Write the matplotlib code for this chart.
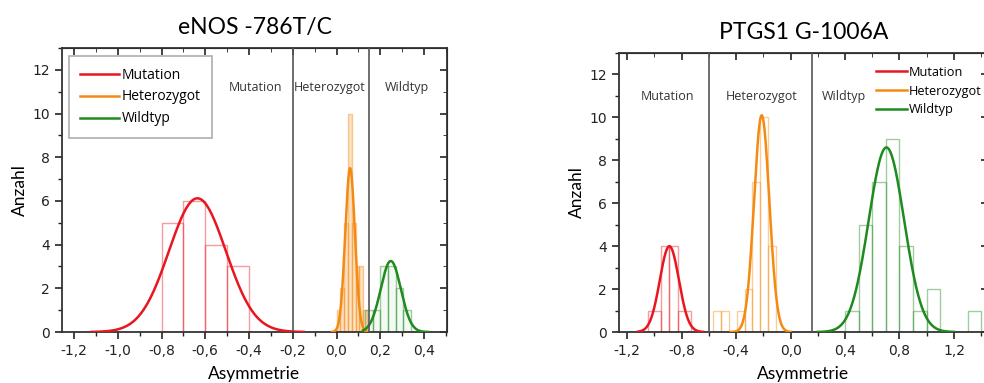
import numpy as np
import matplotlib
matplotlib.use("Agg")
import matplotlib.pyplot as plt
from matplotlib.lines import Line2D
from matplotlib.ticker import MultipleLocator, FuncFormatter

# ---- data ----
# eNOS -786T/C histograms (bin edges, counts)
enos_mut_edges = [-0.8, -0.7, -0.6, -0.5, -0.4]
enos_mut_counts = [5, 6, 4, 3]
enos_het_edges = [0.0, 0.0175, 0.035, 0.0525, 0.07, 0.0875, 0.105, 0.1225, 0.14]
enos_het_counts = [1, 2, 5, 10, 5, 3, 3, 1]
enos_wt_edges = [0.13, 0.165, 0.2, 0.235, 0.27, 0.305, 0.34]
enos_wt_counts = [1, 1, 3, 3, 2, 1]

# PTGS1 G-1006A histograms
ptgs_mut_edges = [-1.05, -0.95, -0.89, -0.83, -0.73]
ptgs_mut_counts = [1, 4, 4, 1]
ptgs_het_edges = [-0.57, -0.512, -0.454, -0.396, -0.338, -0.28, -0.222, -0.164, -0.106]
ptgs_het_counts = [1, 1, 0, 1, 2, 7, 10, 4]
ptgs_wt_edges = [0.4, 0.5, 0.6, 0.7, 0.8, 0.9, 1.0, 1.1, 1.2, 1.3, 1.4]
ptgs_wt_counts = [1, 5, 7, 9, 4, 1, 2, 0, 0, 1]

# gaussian fits: (center, sigma, peak, x_start, x_end)
enos_fits = [(-0.636, 0.13, 6.12, -1.12, -0.15),
             (0.062, 0.022, 7.5, -0.02, 0.14),
             (0.248, 0.046, 3.25, 0.12, 0.42)]
ptgs_fits = [(-0.89, 0.07, 4.0, -1.12, -0.64),
             (-0.212, 0.056, 10.1, -0.44, 0.0),
             (0.704, 0.13, 8.6, 0.2, 1.2)]

# group borders and labels
enos_borders = [-0.2, 0.15]
enos_regions = [(-0.37, "Mutation"), (-0.03, "Heterozygot"), (0.32, "Wildtyp")]
ptgs_borders = [-0.6, 0.155]
ptgs_regions = [(-0.905, "Mutation"), (-0.21, "Heterozygot"), (0.39, "Wildtyp")]

groups = ["Mutation", "Heterozygot", "Wildtyp"]
colors = ["#e8161e", "#f58a12", "#1f8a1f"]

comma = FuncFormatter(lambda v, p: ("%.1f" % (round(v, 2) + 0.0)).replace(".", ","))

fig = plt.figure(figsize=(9.84, 3.83), dpi=100)
W, H = 984.0, 383.0
ax1 = fig.add_axes([62 / W, 1 - 332 / H, (447 - 62) / W, (332 - 48) / H])
ax2 = fig.add_axes([619 / W, 1 - 332 / H, (988 - 619) / W, (332 - 53) / H])


def draw_panel(ax, hists, fits, borders, regions, label_y, xlim, major, minor, title, fill_alpha):
    for (edges, counts), col, fa in zip(hists, colors, fill_alpha):
        edges = np.array(edges)
        ax.bar(edges[:-1], counts, width=np.diff(edges), align="edge",
               facecolor=matplotlib.colors.to_rgba(col, fa),
               edgecolor=matplotlib.colors.to_rgba(col, 0.42), linewidth=1.0, zorder=2)
    for (c, s, a, x0, x1), col in zip(fits, colors):
        x = np.linspace(x0, x1, 300)
        ax.plot(x, a * np.exp(-(x - c) ** 2 / (2 * s ** 2)), color=col, lw=1.8, zorder=3)
    for b in borders:
        ax.axvline(b, color="#555555", lw=1.2, zorder=4)
    for xr, txt in regions:
        ax.text(xr, label_y, txt, ha="center", va="center", fontsize=9,
                family="Open Sans", color="#333333")
    ax.set_xlim(*xlim)
    ax.set_ylim(0, 13)
    ax.xaxis.set_major_locator(MultipleLocator(major))
    ax.xaxis.set_minor_locator(MultipleLocator(minor))
    ax.yaxis.set_major_locator(MultipleLocator(2))
    ax.yaxis.set_minor_locator(MultipleLocator(1))
    ax.xaxis.set_major_formatter(comma)
    ax.tick_params(which="both", direction="out", labelsize=10, colors="#222222")
    ax.tick_params(which="major", length=5, width=1.2)
    ax.tick_params(which="minor", length=3, width=1.0)
    for sp in ax.spines.values():
        sp.set_color("#333333")
        sp.set_linewidth(1.3)
    top = ax.secondary_xaxis("top")
    top.xaxis.set_major_locator(MultipleLocator(major))
    top.xaxis.set_minor_locator(MultipleLocator(minor))
    top.tick_params(which="both", direction="in", labeltop=False, colors="#222222")
    top.tick_params(which="major", length=5, width=1.2)
    top.tick_params(which="minor", length=3)
    right = ax.secondary_yaxis("right")
    right.yaxis.set_major_locator(MultipleLocator(2))
    right.yaxis.set_minor_locator(MultipleLocator(1))
    right.tick_params(which="both", direction="in", labelright=False, colors="#222222")
    right.tick_params(which="major", length=5, width=1.2)
    right.tick_params(which="minor", length=3)
    ax.set_xlabel("Asymmetrie", fontsize=12.5, family="Lato", labelpad=6)
    ax.set_ylabel("Anzahl", fontsize=12.5, family="Lato", labelpad=3)
    ax.set_title(title, fontsize=16.5, family="Lato", pad=10)


draw_panel(ax1,
           [(enos_mut_edges, enos_mut_counts), (enos_het_edges, enos_het_counts),
            (enos_wt_edges, enos_wt_counts)],
           enos_fits, enos_borders, enos_regions, 11.2, (-1.255, 0.505), 0.2, 0.1,
           "eNOS -786T/C", [0.0, 0.25, 0.05])
draw_panel(ax2,
           [(ptgs_mut_edges, ptgs_mut_counts), (ptgs_het_edges, ptgs_het_counts),
            (ptgs_wt_edges, ptgs_wt_counts)],
           ptgs_fits, ptgs_borders, ptgs_regions, 10.95, (-1.26, 1.45), 0.4, 0.2,
           "PTGS1 G-1006A", [0.0, 0.0, 0.0])

handles = [Line2D([], [], color=c, lw=1.8) for c in colors]
leg1 = ax1.legend(handles, groups, loc="upper left", bbox_to_anchor=(0.008, 0.985),
                  frameon=True, fancybox=False, edgecolor="#999999",
                  handlelength=2.8, handletextpad=0.2, labelspacing=0.5,
                  borderpad=0.8, borderaxespad=0.3,
                  prop={"family": "Open Sans", "size": 10})
leg1.get_frame().set_linewidth(1.2)
leg2 = ax2.legend(handles, groups, loc="upper left", bbox_to_anchor=(0.665, 0.995),
                  frameon=False, handlelength=2.4, handletextpad=0.15,
                  labelspacing=0.45, prop={"family": "Open Sans", "size": 9.2})

fig.savefig("out.png", dpi=100)
